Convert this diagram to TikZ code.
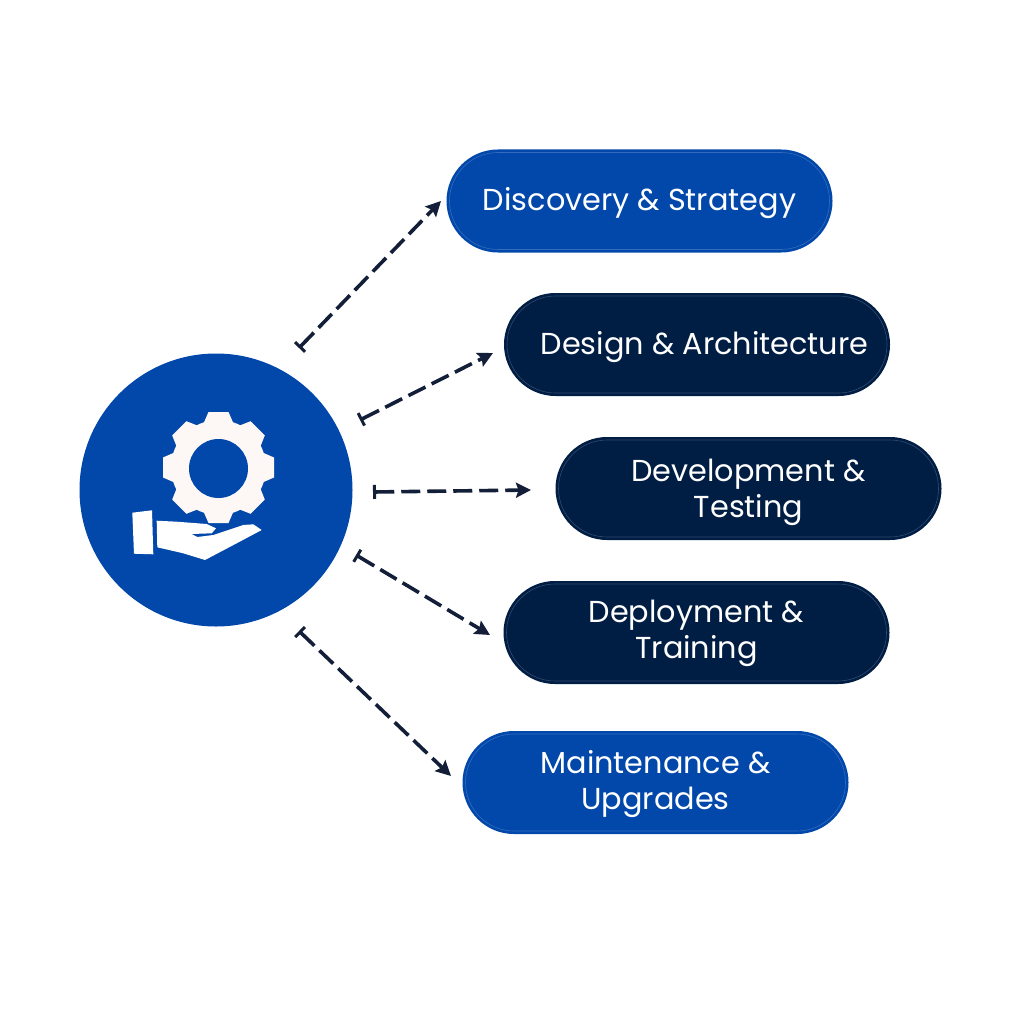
\documentclass[tikz,border=0pt]{standalone}
\usepackage{fontspec}
\setmainfont{Poppins}
\usetikzlibrary{arrows.meta,shapes.misc}
\definecolor{bluefill}{RGB}{2,72,170}
\definecolor{bluering}{RGB}{50,108,190}
\definecolor{navyfill}{RGB}{0,29,68}
\definecolor{navyring}{RGB}{50,74,110}
\definecolor{linecol}{RGB}{19,31,56}
\definecolor{gearcol}{RGB}{253,248,245}
\tikzset{
	pill/.style={shape=rounded rectangle, minimum width=380, minimum height=97, inner sep=0,
		fill=#1fill, draw=#1ring, line width=0.6, preaction={draw=#1fill, line width=6},
		text=white, align=center, font=\fontsize{30.3}{36}\selectfont,
		text height=28, text depth=8},
	twolines/.style={text height=#1, text depth=8},
	flow/.style={line width=3.6, draw=linecol, dash pattern=on 19 off 7,
		{Bar[width=14,line width=3,sep=0]}-{Stealth[length=15,width=15,inset=2.5]}},
}

\begin{document}
\begin{tikzpicture}[x=1pt, y=-1pt]
		%%%%% START %%%%%
		\useasboundingbox (0, 0) rectangle (1024, 1024);
		\fill[white] (0, 0) rectangle (1024, 1024);
		
		\node[circle, fill=bluefill, minimum size=273, inner sep=0] (hub) at (216, 490) {};
		
		% gear
		\fill[gearcol] (218.5, 467.5) circle (47.5);
		\foreach \a in {0, 45, ..., 315} {
			\begin{scope}[shift={(218.5, 467.5)}, rotate=\a]
				\fill[gearcol] (44, -15) -- (55.5, -10) -- (55.5, 10) -- (44, 15) -- cycle;
			\end{scope}
		}
		\fill[bluefill] (218.5, 468.5) circle (29.5);
		
		% hand
		\fill[white] (132.3, 512.7) -- (152, 510.3) -- (153.3, 554.3) -- (134, 553.7) -- cycle;
		\fill[white] (156.7, 520.7) -- (176.7, 521.7) -- (206.7, 524) -- (216, 528.3) -- (211.7, 533.3)
			-- (191.7, 534) -- (197.3, 537) -- (213.3, 535) -- (243.3, 525) -- (253.3, 524.3)
			-- (261.7, 530) -- (236.7, 543.3) -- (205, 560) -- (183.3, 553.3) -- (157.3, 547.3) -- cycle;
		
		\node[pill=blue] (discovery) at (639.5, 201) {Discovery \& Strategy};
		\node[pill=navy] (design) at (697, 344.5) {\hspace*{15pt}Design \& Architecture};
		\node[pill=navy, twolines=65] (development) at (748.5, 488.5) {Development \&\\Testing};
		\node[pill=navy, twolines=59] (deployment) at (696.5, 632.5) {Deployment \&\\Training};
		\node[pill=blue, twolines=61] (maintenance) at (655.5, 782.5) {Maintenance \&\\Upgrades};
		
		\coordinate (s1) at (299, 348);
		\coordinate (s2) at (360, 420);
		\coordinate (s3) at (373, 492);
		\coordinate (s4) at (356, 555);
		\coordinate (s5) at (299, 631);
		\coordinate (e1) at (441, 201);
		\coordinate (e2) at (493, 353);
		\coordinate (e3) at (531, 490);
		\coordinate (e4) at (490, 635);
		\coordinate (e5) at (451, 776);
		
		\foreach \i in {1, ..., 5} {
			\draw[flow] (s\i) -- (e\i);
		}
		%%%%% END %%%%%
	\end{tikzpicture}
\end{document}
